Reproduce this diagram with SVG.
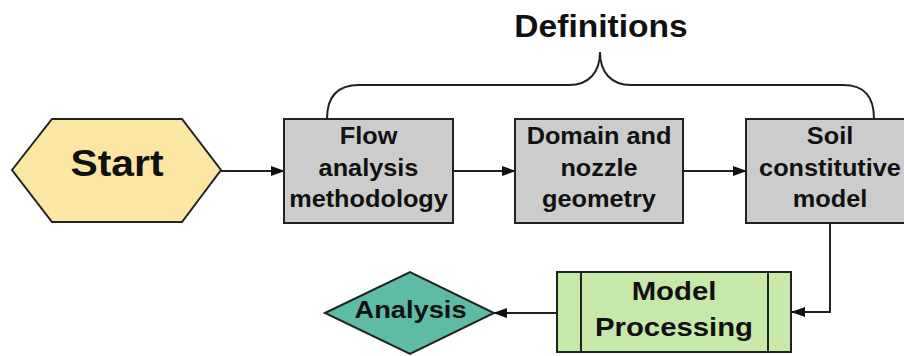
<svg xmlns="http://www.w3.org/2000/svg" width="904" height="356" viewBox="0 0 904 356">
<style>
.lbl{font-family:"Liberation Sans",Arial,sans-serif;font-weight:bold;fill:#111;text-anchor:middle}
.shape{stroke:#222;stroke-width:2}
.box{fill:#cccccc}
.conn{fill:none;stroke:#222;stroke-width:2}
</style>
<defs>
<marker id="ah" markerWidth="14" markerHeight="10" refX="13" refY="5" orient="auto" markerUnits="userSpaceOnUse">
<path d="M0,0 L14,5 L0,10 Z" fill="#111"/>
</marker>
</defs>
<rect width="904" height="356" fill="#ffffff"/>

<g id="definitions">
<path class="conn" d="M327,119 C327,97 337,85 359,85 L569,85 C589,85 600,72 600,52 C600,72 611,85 631,85 L843,85 C865,85 874,97 874,119"/>
<text class="lbl" font-size="30.5" transform="translate(601,37) scale(1.1,1)">Definitions</text>
</g>

<g id="connectors">
<line class="conn" x1="221" y1="171" x2="284" y2="171" marker-end="url(#ah)"/>
<line class="conn" x1="453" y1="171" x2="515" y2="171" marker-end="url(#ah)"/>
<line class="conn" x1="683" y1="171" x2="746" y2="171" marker-end="url(#ah)"/>
<polyline class="conn" points="830,223 830,312 792,312" marker-end="url(#ah)"/>
<line class="conn" x1="557" y1="313" x2="494" y2="313" marker-end="url(#ah)"/>
</g>

<g id="start">
<polygon class="shape" fill="#fbe7a3" points="12,170 52,119 182,119 221,170 182,222 52,222"/>
<text class="lbl" font-size="37.5" transform="translate(117,176) scale(1.09,1)">Start</text>
</g>

<g id="flow">
<rect class="shape box" x="284" y="119" width="169" height="104"/>
<text class="lbl" font-size="23" transform="translate(368.5,144) scale(1.1,1)">Flow</text>
<text class="lbl" font-size="23" transform="translate(368.5,175.5) scale(1.1,1)">analysis</text>
<text class="lbl" font-size="23" transform="translate(368.5,207) scale(1.1,1)">methodology</text>
</g>

<g id="domain">
<rect class="shape box" x="515" y="119" width="168" height="104"/>
<text class="lbl" font-size="23" transform="translate(599,144) scale(1.1,1)">Domain and</text>
<text class="lbl" font-size="23" transform="translate(599,175.5) scale(1.1,1)">nozzle</text>
<text class="lbl" font-size="23" transform="translate(599,207) scale(1.1,1)">geometry</text>
</g>

<g id="soil">
<rect class="shape box" x="746" y="119" width="169" height="104"/>
<text class="lbl" font-size="23" transform="translate(830,144) scale(1.1,1)">Soil</text>
<text class="lbl" font-size="23" transform="translate(830,175.5) scale(1.1,1)">constitutive</text>
<text class="lbl" font-size="23" transform="translate(830,207) scale(1.1,1)">model</text>
</g>

<g id="model-processing">
<rect class="shape" fill="#c6e8a9" x="557" y="272" width="234" height="80"/>
<line class="shape" x1="581" y1="272" x2="581" y2="352"/>
<line class="shape" x1="768" y1="272" x2="768" y2="352"/>
<text class="lbl" font-size="25.5" transform="translate(674,300) scale(1.15,1)">Model</text>
<text class="lbl" font-size="25.5" transform="translate(674,336) scale(1.15,1)">Processing</text>
</g>

<g id="analysis">
<polygon class="shape" fill="#5dbba6" points="325,313 410,272 494,313 410,354"/>
<text class="lbl" font-size="23.5" transform="translate(410.5,318) scale(1.16,1)">Analysis</text>
</g>
</svg>
